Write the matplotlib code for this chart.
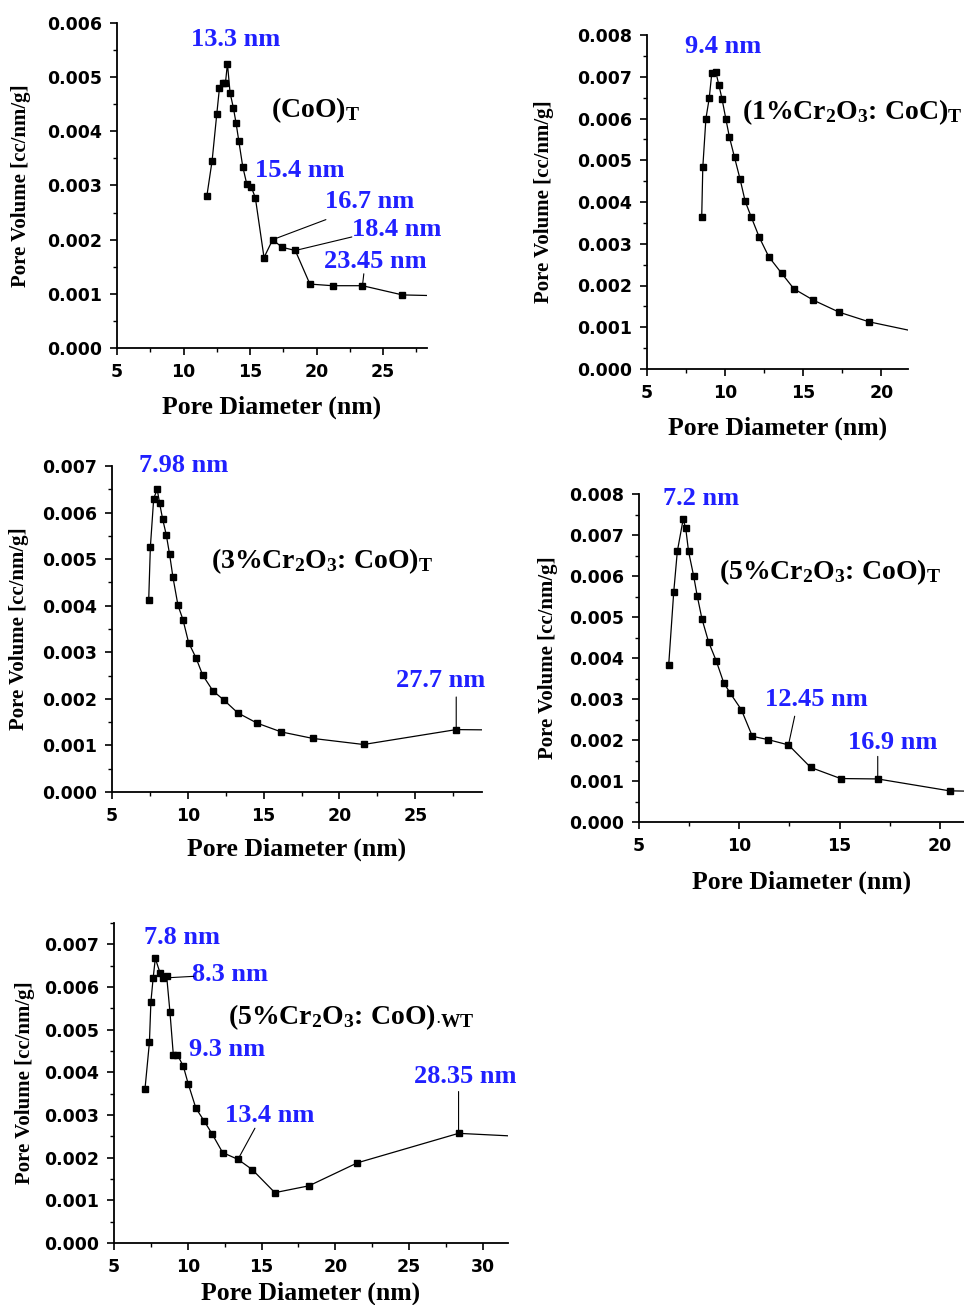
import matplotlib
matplotlib.use('Agg')
import matplotlib.pyplot as plt
from matplotlib.ticker import MultipleLocator, FormatStrFormatter

plt.rcParams['mathtext.fontset'] = 'custom'
plt.rcParams['mathtext.rm'] = 'Liberation Serif:bold'
plt.rcParams['mathtext.bf'] = 'Liberation Serif:bold'
plt.rcParams['mathtext.it'] = 'Liberation Serif:bold'

#----------------------
# Dados: diametro de poro (nm) x volume de poro (cc/nm/g, x 1e-3)
#----------------------

# (CoO)T
d1 = [11.75, 12.15, 12.5, 12.7, 12.95, 13.15, 13.3, 13.5, 13.75, 13.95, 14.15, 14.45,
      14.75, 15.1, 15.4, 16.05, 16.7, 17.4, 18.4, 19.5, 21.2, 23.45, 26.45, 30.0]
v1 = [2.80, 3.46, 4.32, 4.80, 4.89, 4.89, 5.25, 4.71, 4.43, 4.15, 3.83, 3.35,
      3.03, 2.97, 2.77, 1.67, 2.00, 1.86, 1.80, 1.18, 1.15, 1.15, 0.98, 0.96]

# (1%Cr2O3:CoO)T
d2 = [8.5, 8.57, 8.77, 8.98, 9.15, 9.4, 9.6, 9.8, 10.05, 10.27, 10.6, 10.96, 11.28,
      11.66, 12.19, 12.79, 13.62, 14.4, 15.64, 17.3, 19.21, 23.0]
v2 = [3.63, 4.83, 6.00, 6.48, 7.10, 7.12, 6.80, 6.47, 5.98, 5.56, 5.07, 4.54, 4.02,
      3.65, 3.15, 2.69, 2.29, 1.92, 1.65, 1.36, 1.13, 0.83]

# (3%Cr2O3:CoO)T
d3 = [7.42, 7.53, 7.75, 7.98, 8.14, 8.34, 8.58, 8.8, 9.02, 9.35, 9.68, 10.05, 10.54,
      10.98, 11.66, 12.36, 13.29, 14.56, 16.16, 18.25, 21.59, 27.7, 31.0]
v3 = [4.12, 5.26, 6.30, 6.50, 6.20, 5.86, 5.52, 5.10, 4.61, 4.01, 3.70, 3.21, 2.88,
      2.51, 2.17, 1.98, 1.70, 1.48, 1.29, 1.15, 1.02, 1.34, 1.33]

# (5%Cr2O3:CoO)T
d4 = [6.48, 6.73, 6.91, 7.2, 7.33, 7.47, 7.72, 7.9, 8.14, 8.47, 8.85, 9.22, 9.55,
      10.1, 10.65, 11.43, 12.45, 13.56, 15.05, 16.9, 20.48, 23.0]
v4 = [3.83, 5.60, 6.60, 7.38, 7.16, 6.60, 6.01, 5.52, 4.95, 4.39, 3.93, 3.40, 3.14,
      2.74, 2.09, 2.01, 1.88, 1.33, 1.06, 1.05, 0.76, 0.74]

# (5%Cr2O3:CoO)WT
d5 = [7.1, 7.4, 7.5, 7.65, 7.8, 8.12, 8.3, 8.57, 8.79, 9.02, 9.3, 9.7, 10.03, 10.55,
      11.09, 11.66, 12.36, 13.4, 14.37, 15.9, 18.21, 21.5, 28.35, 33.0]
v5 = [3.61, 4.70, 5.65, 6.20, 6.67, 6.33, 6.21, 6.25, 5.42, 4.41, 4.41, 4.14, 3.73,
      3.16, 2.87, 2.55, 2.12, 1.96, 1.72, 1.18, 1.34, 1.88, 2.57, 2.49]

#----------------------
# Figura
#----------------------
W, H = 964, 1305
fig = plt.figure(figsize=(W / 100, H / 100), dpi=100)

AZUL = '#2020ff'
SERIF = 'Liberation Serif'


def painel(l, r, t, b, d, v, xmax, ymax, xlab_pad, ylab_dx, tick_fs=12.5):
    ax = fig.add_axes([l / W, 1 - b / H, (r - l) / W, (b - t) / H])
    ax.plot(d, [y * 1e-3 for y in v], '-s', color='black', lw=0.9, ms=4.8)
    ax.set_xlim(5, xmax)
    ax.set_ylim(0, ymax)
    for s in ['top', 'right']:
        ax.spines[s].set_visible(False)
    for s in ['left', 'bottom']:
        ax.spines[s].set_linewidth(1.3)
    ax.xaxis.set_major_locator(MultipleLocator(5))
    ax.xaxis.set_minor_locator(MultipleLocator(2.5))
    ax.yaxis.set_major_locator(MultipleLocator(0.001))
    ax.yaxis.set_minor_locator(MultipleLocator(0.0005))
    ax.yaxis.set_major_formatter(FormatStrFormatter('%.3f'))
    ax.tick_params(which='major', direction='out', length=5, width=1.2,
                   labelsize=tick_fs, pad=6)
    ax.tick_params(which='minor', direction='out', length=3, width=1.0)
    for lab in ax.get_xticklabels() + ax.get_yticklabels():
        lab.set_fontweight('bold')
    ax.set_xlabel('Pore Diameter (nm)', family=SERIF, weight='bold',
                  fontsize=18.5, labelpad=xlab_pad)
    ax.set_ylabel('Pore Volume [cc/nm/g]', family=SERIF, weight='bold',
                  fontsize=15)
    # ylabel ancorado pela borda direita do texto girado
    ax.yaxis.set_label_coords(-(ylab_dx - 9) / (r - l), 0.5)
    return ax


def rotulo(ax, txt, x, y, cor=AZUL, fs=19, ha='center'):
    ax.text(x, y * 1e-3, txt, color=cor, family=SERIF, weight='bold',
            fontsize=fs, ha=ha, va='center')


def guia(ax, d, v, i, x2, y2):
    ax.annotate('', xy=(d[i], v[i] * 1e-3), xytext=(x2, y2 * 1e-3),
                arrowprops=dict(arrowstyle='-', color='black', lw=0.8,
                                shrinkA=0, shrinkB=0))


# (CoO)T
ax1 = painel(117, 427, 23, 348, d1, v1, 28.3, 0.006, 10, 95)
rotulo(ax1, '13.3 nm', 13.9, 5.69)
rotulo(ax1, '15.4 nm', 18.7, 3.28)
rotulo(ax1, '16.7 nm', 24.0, 2.71)
rotulo(ax1, '18.4 nm', 26.0, 2.18)
rotulo(ax1, '23.45 nm', 24.4, 1.59)
guia(ax1, d1, v1, d1.index(16.7), 20.7, 2.37)
guia(ax1, d1, v1, d1.index(18.4), 22.65, 2.05)
guia(ax1, d1, v1, d1.index(23.45), 23.55, 1.37)
rotulo(ax1, r'(CoO)$_{\rm T}$', 16.6, 4.40, cor='black', fs=20, ha='left')

# (1%Cr2O3:CoO)T
ax2 = painel(647, 908, 35, 369, d2, v2, 21.7, 0.008, 10, 102)
rotulo(ax2, '9.4 nm', 9.9, 7.72)
rotulo(ax2, r'(1%Cr$_{\rm 2}$O$_{\rm 3}$: CoC)$_{\rm T}$', 11.06, 6.15,
       cor='black', fs=20, ha='left')

# (3%Cr2O3:CoO)T
ax3 = painel(112, 482, 466, 792, d3, v3, 29.4, 0.007, 9, 92)
rotulo(ax3, '7.98 nm', 9.73, 7.02)
rotulo(ax3, '27.7 nm', 26.65, 2.40)
guia(ax3, d3, v3, d3.index(27.7), 27.7, 2.04)
rotulo(ax3, r'(3%Cr$_{\rm 2}$O$_{\rm 3}$: CoO)$_{\rm T}$', 11.5, 4.95,
       cor='black', fs=20, ha='left')

# (5%Cr2O3:CoO)T
ax4 = painel(639, 964, 494, 822, d4, v4, 21.2, 0.008, 11, 90)
rotulo(ax4, '7.2 nm', 8.1, 7.90)
rotulo(ax4, '12.45 nm', 13.84, 2.98)
rotulo(ax4, '16.9 nm', 17.66, 1.93)
guia(ax4, d4, v4, d4.index(12.45), 12.76, 2.58)
guia(ax4, d4, v4, d4.index(16.9), 16.9, 1.60)
rotulo(ax4, r'(5%Cr$_{\rm 2}$O$_{\rm 3}$: CoO)$_{\rm T}$', 8.97, 6.10,
       cor='black', fs=20, ha='left')

# (5%Cr2O3:CoO)WT
ax5 = painel(114, 508, 923, 1243, d5, v5, 31.7, 0.0075, 4, 88)
rotulo(ax5, '7.8 nm', 9.58, 7.16)
rotulo(ax5, '8.3 nm', 12.86, 6.29)
rotulo(ax5, '9.3 nm', 12.63, 4.53)
rotulo(ax5, '13.4 nm', 15.56, 3.00)
rotulo(ax5, '28.35 nm', 28.77, 3.90)
guia(ax5, d5, v5, d5.index(8.3), 10.4, 6.25)
guia(ax5, d5, v5, d5.index(13.4), 14.55, 2.69)
guia(ax5, d5, v5, d5.index(28.35), 28.35, 3.55)
rotulo(ax5, r'(5%Cr$_{\rm 2}$O$_{\rm 3}$: CoO)$_{\cdot{\rm WT}}$', 12.74, 5.30,
       cor='black', fs=20, ha='left')

plt.savefig('out.png', dpi=100)
